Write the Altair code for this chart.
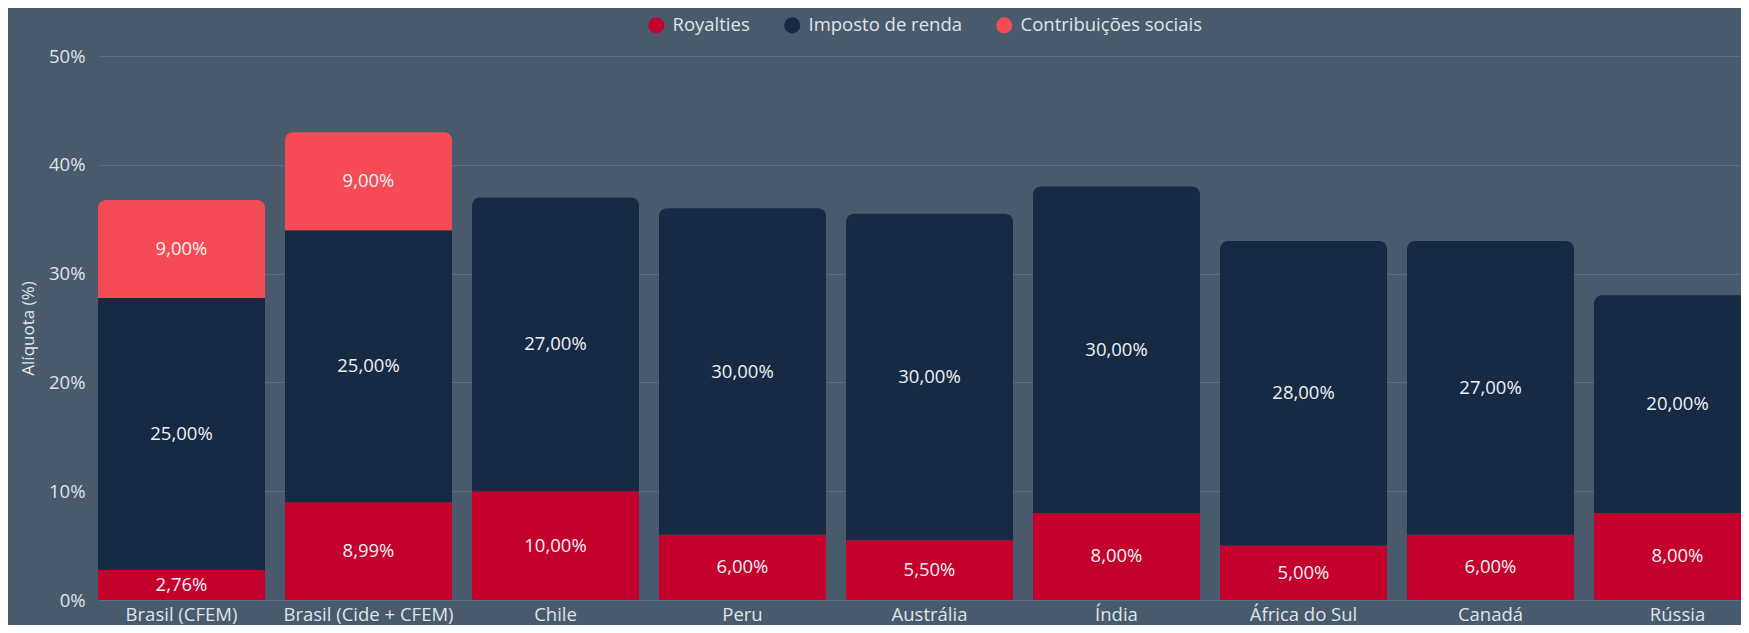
import altair as alt
import pandas as pd

paises = ["Brasil (CFEM)", "Brasil (Cide + CFEM)", "Chile", "Peru", "Austrália",
          "Índia", "África do Sul", "Canadá", "Rússia"]
royalties = [2.76, 8.99, 10.00, 6.00, 5.50, 8.00, 5.00, 6.00, 8.00]
imposto = [25.00, 25.00, 27.00, 30.00, 30.00, 30.00, 28.00, 27.00, 20.00]
contribuicoes = [9.00, 9.00, 0, 0, 0, 0, 0, 0, 0]

series = ["Royalties", "Imposto de renda", "Contribuições sociais"]
cores = ["#c4002c", "#172a44", "#f44b55"]

rows = []
for i, p in enumerate(paises):
    vals = [royalties[i], imposto[i], contribuicoes[i]]
    base = 0.0
    nz = [k for k, v in enumerate(vals) if v > 0]
    for k, v in enumerate(vals):
        if v <= 0:
            continue
        rows.append({
            "pais": p, "serie": series[k], "ordem": k, "valor": v,
            "y0": base, "y1": base + v, "mid": base + v / 2,
            "top": k == nz[-1],
            "rotulo": f"{v:.2f}".replace(".", ",") + "%",
        })
        base += v
df = pd.DataFrame(rows)

FONT = "Open Sans"
TXT = "#dfe4ea"

x = alt.X("pais:N", sort=paises, title=None,
          scale=alt.Scale(range=[0, 1663], paddingInner=0.107, paddingOuter=0),
          axis=alt.Axis(labelAngle=0, domain=False, ticks=False, labelPadding=5,
                        labelFontSize=18.5, labelColor=TXT, labelFont=FONT, grid=False))
y = alt.Y("y0:Q", title="Alíquota (%)",
          scale=alt.Scale(domain=[0, 50], nice=False, zero=True),
          axis=alt.Axis(values=[0, 10, 20, 30, 40, 50], labelExpr="datum.value + '%'",
                        domain=False, ticks=False, labelPadding=13, labelFontSize=18.5,
                        labelColor=TXT, labelFont=FONT, titleFont=FONT, titleFontSize=17,
                        titleColor=TXT, titleFontWeight="normal", titlePadding=11,
                        grid=True, gridColor="#5d6e82", gridWidth=1.2))
color = alt.Color("serie:N", scale=alt.Scale(domain=series, range=cores),
                  legend=alt.Legend(title=None, orient="none", direction="horizontal",
                                    legendX=549, legendY=-40, symbolType="circle",
                                    symbolSize=260, symbolStrokeWidth=0, labelFontSize=18.5,
                                    labelColor=TXT, labelFont=FONT, columnPadding=33,
                                    labelLimit=400, labelOffset=7, symbolOpacity=1))

base = alt.Chart(df)
bars_low = base.transform_filter("!datum.top").mark_bar(clip=True).encode(
    x=x, y=y, y2="y1:Q", color=color)
bars_top = base.transform_filter("datum.top").mark_bar(
    clip=True, cornerRadiusTopLeft=8, cornerRadiusTopRight=8).encode(
    x=x, y=y, y2="y1:Q", color=color)
labels = base.mark_text(font=FONT, fontSize=18.5, color="#eef1f4", clip=True).encode(
    x=x, y=alt.Y("mid:Q"), text="rotulo:N")

chart = alt.layer(bars_low, bars_top, labels).properties(
    width=1643, height=544, background="#4a5a6d",
    padding={"left": 90, "top": 48, "right": 0, "bottom": 25},
    autosize=alt.AutoSizeParams(type="none"),
).configure_view(stroke=None)

chart.save("out.html", embed_options={"renderer": "svg", "actions": False})
